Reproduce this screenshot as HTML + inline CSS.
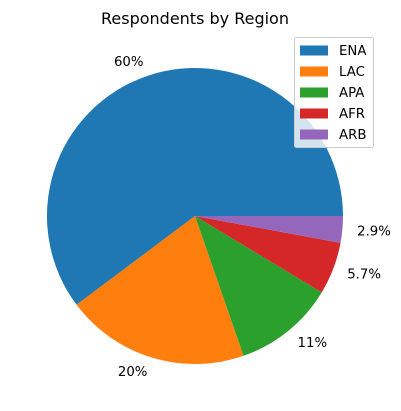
<!DOCTYPE html>
<html>
<head>
<meta charset="utf-8">
<style>
html,body{margin:0;padding:0;background:#fff;}
svg{display:block;font-family:"DejaVu Sans","Liberation Sans",sans-serif;}
</style>
</head>
<body>
<svg id="chart" width="401" height="411" viewBox="0 0 401 411">
  <text x="195" y="24" text-anchor="middle" font-size="16" fill="#000">Respondents by Region</text>
  <g id="slices"></g>
  <g id="labels"></g>
  <g id="legend">
    <rect x="294.5" y="37.5" width="79" height="110" rx="2" fill="#fff" fill-opacity="0.8" stroke="#ccc"></rect>
  </g>
</svg>
<script>
const categories = ["ENA", "LAC", "APA", "AFR", "ARB"];
const values = [60, 20, 11, 5.7, 2.9];
const valueLabels = ["60%", "20%", "11%", "5.7%", "2.9%"];
const colors = ["#1f77b4", "#ff7f0e", "#2ca02c", "#d62728", "#9467bd"];

const NS = "http://www.w3.org/2000/svg";
const cx = 195, cy = 216, r = 148;
const total = values.reduce((a, b) => a + b, 0);
const slicesG = document.getElementById("slices");
const labelsG = document.getElementById("labels");
const legendG = document.getElementById("legend");

function pt(angDeg, rad) {
  const a = angDeg * Math.PI / 180;
  return [cx + rad * Math.cos(a), cy - rad * Math.sin(a)];
}

let start = 0;
values.forEach((v, i) => {
  const sweep = v / total * 360;
  const end = start + sweep;
  const [x1, y1] = pt(start, r);
  const [x2, y2] = pt(end, r);
  const large = sweep > 180 ? 1 : 0;
  const p = document.createElementNS(NS, "path");
  p.setAttribute("d", `M${cx},${cy} L${x1},${y1} A${r},${r} 0 ${large} 0 ${x2},${y2} Z`);
  p.setAttribute("fill", colors[i]);
  
  
  slicesG.appendChild(p);

  const mid = start + sweep / 2;
  const [lx, ly] = pt(mid, r * 1.1);
  const t = document.createElementNS(NS, "text");
  t.setAttribute("x", lx);
  t.setAttribute("y", ly + 4.5);
  t.setAttribute("font-size", "13.3");
  t.setAttribute("text-anchor", lx < cx ? "end" : "start");
  t.textContent = valueLabels[i];
  
  
  labelsG.appendChild(t);
  start = end;
});

categories.forEach((c, i) => {
  const y = 50 + i * 21;
  const rect = document.createElementNS(NS, "rect");
  rect.setAttribute("x", 300);
  rect.setAttribute("y", y - 4.5);
  rect.setAttribute("width", 28);
  rect.setAttribute("height", 10);
  rect.setAttribute("fill", colors[i]);
  
  
  legendG.appendChild(rect);
  const t = document.createElementNS(NS, "text");
  t.setAttribute("x", 339);
  t.setAttribute("y", y + 5);
  t.setAttribute("font-size", "13.3");
  t.textContent = c;
  
  
  legendG.appendChild(t);
});
</script>
</body>
</html>
